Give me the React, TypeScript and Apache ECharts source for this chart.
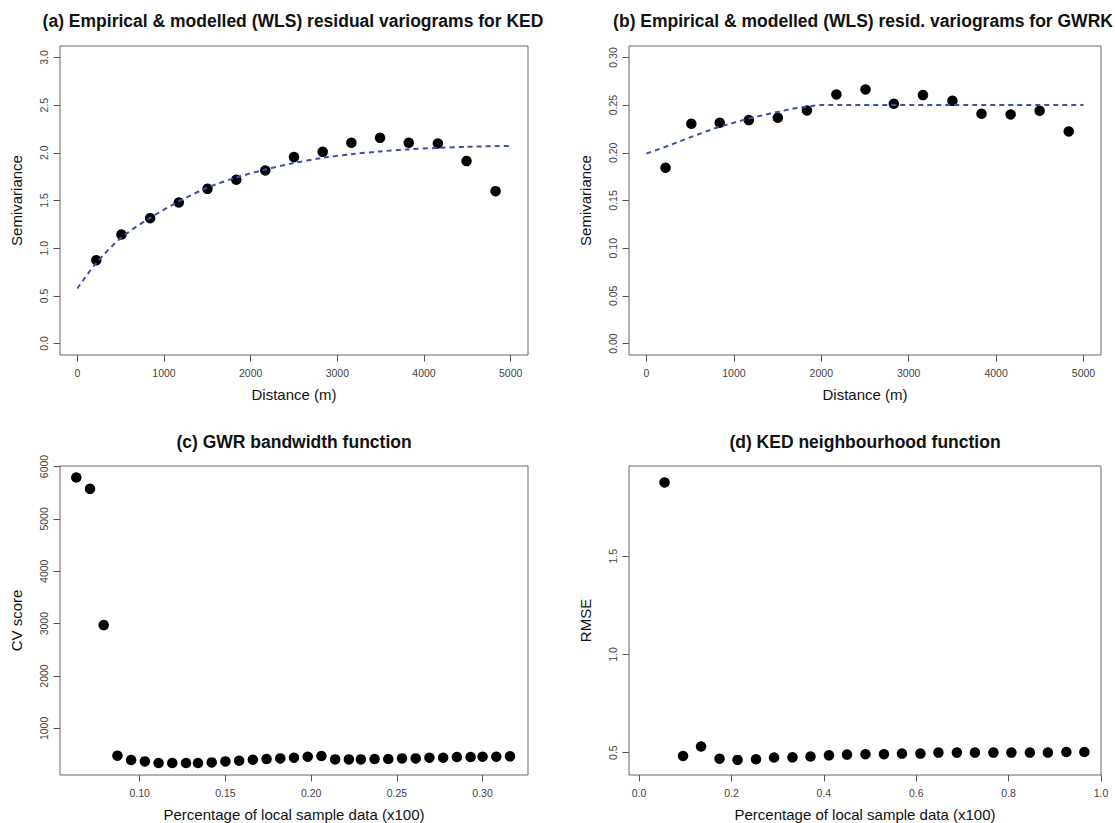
import React, { useEffect, useRef } from "react";
import * as echarts from "echarts";

const FONT = "'Liberation Sans', Arial, Helvetica, sans-serif";

// (a) KED residual variogram
const kedDist = [219, 509, 840, 1171, 1502, 1834, 2169, 2500, 2831, 3162, 3493, 3824, 4160, 4491, 4826];
const kedGamma = [0.874, 1.143, 1.315, 1.479, 1.622, 1.717, 1.815, 1.955, 2.01, 2.105, 2.157, 2.105, 2.098, 1.913, 1.598];
const kedModelDist = [0, 219, 509, 840, 1171, 1502, 1834, 2169, 2500, 2831, 3162, 3493, 3824, 4160, 4491, 5000];
const kedModelGamma = [0.577, 0.846, 1.112, 1.318, 1.49, 1.636, 1.741, 1.825, 1.893, 1.948, 1.985, 2.015, 2.036, 2.052, 2.063, 2.073];

// (b) GWRK residual variogram
const gwrkDist = [218, 513, 838, 1171, 1503, 1836, 2173, 2506, 2830, 3163, 3500, 3833, 4166, 4498, 4831];
const gwrkGamma = [0.1843, 0.2304, 0.2315, 0.2343, 0.2367, 0.2444, 0.2612, 0.2664, 0.2514, 0.2605, 0.2545, 0.2409, 0.2402, 0.2441, 0.2224];
const gwrkModelDist = [0, 197, 464, 808, 1131, 1418, 1685, 1913, 2000, 5000];
const gwrkModelGamma = [0.1993, 0.2056, 0.215, 0.2266, 0.235, 0.2413, 0.2465, 0.2493, 0.2502, 0.2502];

// (c) GWR bandwidth function
const gwrPct = [0.063, 0.071, 0.079, 0.087, 0.095, 0.103, 0.111, 0.119, 0.127, 0.134, 0.142, 0.15, 0.158, 0.166, 0.174, 0.182, 0.19, 0.198, 0.206, 0.214, 0.222, 0.229, 0.237, 0.245, 0.253, 0.261, 0.269, 0.277, 0.285, 0.293, 0.3, 0.308, 0.316];
const gwrCV = [5790, 5574, 2972, 478, 396, 370, 338, 338, 338, 338, 351, 370, 383, 402, 415, 427, 440, 459, 472, 408, 408, 408, 415, 415, 427, 427, 440, 440, 453, 453, 459, 459, 466];

// (d) KED neighbourhood function
const kedPct = [0.055, 0.095, 0.134, 0.174, 0.213, 0.253, 0.292, 0.332, 0.371, 0.411, 0.45, 0.49, 0.53, 0.569, 0.609, 0.648, 0.688, 0.727, 0.767, 0.806, 0.846, 0.885, 0.925, 0.964];
const kedRMSE = [1.876, 0.483, 0.531, 0.469, 0.463, 0.466, 0.475, 0.476, 0.48, 0.486, 0.49, 0.492, 0.492, 0.495, 0.495, 0.5, 0.5, 0.5, 0.5, 0.5, 0.5, 0.5, 0.503, 0.503];

// tick values
const distTicks = [0, 1000, 2000, 3000, 4000, 5000];
const semiTicksA = [0, 0.5, 1, 1.5, 2, 2.5, 3];
const semiTicksB = [0, 0.05, 0.1, 0.15, 0.2, 0.25, 0.3];
const pctTicksC = [0.1, 0.15, 0.2, 0.25, 0.3];
const cvTicks = [1000, 2000, 3000, 4000, 5000, 6000];
const pctTicksD = [0, 0.2, 0.4, 0.6, 0.8, 1.0];
const rmseTicks = [0.5, 1.0, 1.5];

const titles = [
  "(a) Empirical & modelled (WLS) residual variograms for KED",
  "(b) Empirical & modelled (WLS) resid. variograms for GWRK",
  "(c) GWR bandwidth function",
  "(d) KED neighbourhood function",
];

const zip = (xs: number[], ys: number[]) => xs.map((x, i) => [x, ys[i]]);

function makeX(gridIndex: number, min: number, max: number, ticks: number[], digits: number, name: string) {
  return {
    type: "value",
    gridIndex,
    min,
    max,
    name,
    nameLocation: "middle",
    nameGap: 32,
    nameTextStyle: { fontSize: 15, color: "#111", fontFamily: FONT },
    axisLine: { show: false, onZero: false },
    axisTick: { show: true, inside: false, length: 6.5, lineStyle: { color: "#555", width: 1 }, customValues: ticks },
    axisLabel: {
      customValues: ticks,
      formatter: (v: number) => v.toFixed(digits),
      color: "#444",
      fontSize: 10.5,
      fontFamily: FONT,
      margin: 12,
    },
    splitLine: { show: false },
  };
}

function makeY(gridIndex: number, min: number, max: number, ticks: number[], digits: number, name: string) {
  return {
    type: "value",
    gridIndex,
    min,
    max,
    name,
    nameLocation: "middle",
    nameGap: 36,
    nameTextStyle: { fontSize: 15, color: "#111", fontFamily: FONT },
    axisLine: { show: false, onZero: false },
    axisTick: { show: true, inside: false, length: 6.5, lineStyle: { color: "#555", width: 1 }, customValues: ticks },
    axisLabel: {
      customValues: ticks,
      formatter: (v: number) => v.toFixed(digits),
      rotate: 90,
      color: "#444",
      fontSize: 10.5,
      fontFamily: FONT,
      margin: 11,
    },
    splitLine: { show: false },
  };
}

const gridBase = { show: true, borderColor: "#666", borderWidth: 1, backgroundColor: "transparent", containLabel: false };

export default function App() {
  const ref = useRef<HTMLDivElement>(null);
  useEffect(() => {
    document.body.style.margin = "0";
    if (!ref.current) return;
    const chart = echarts.init(ref.current, undefined, { renderer: "svg" });
    const dotStyle = { color: "#000", opacity: 1 };
    const lineStyle = { color: "#3f4fae", width: 2, type: [5, 4] as any };
    const dot = { symbol: "circle", symbolSize: 10.5, itemStyle: dotStyle };
    const option: any = {
      animation: false,
      backgroundColor: "#fff",
      textStyle: { fontFamily: FONT },
      title: [
        { text: titles[0], left: 293, top: 12, textAlign: "center" },
        { text: titles[1], left: 863, top: 12, textAlign: "center" },
        { text: titles[2], left: 294, top: 433, textAlign: "center" },
        { text: titles[3], left: 865, top: 433, textAlign: "center" },
      ].map((t) => ({
        ...t,
        textStyle: { fontSize: 17.5, fontWeight: "bold", color: "#111", fontFamily: FONT },
        padding: 0,
      })),
      grid: [
        { ...gridBase, left: 60, top: 46, width: 468, height: 309 },
        { ...gridBase, left: 629, top: 46, width: 472, height: 309 },
        { ...gridBase, left: 60, top: 466, width: 468, height: 310 },
        { ...gridBase, left: 629, top: 466, width: 472, height: 310 },
      ],
      xAxis: [
        makeX(0, -200, 5200, distTicks, 0, "Distance (m)"),
        makeX(1, -200, 5200, distTicks, 0, "Distance (m)"),
        makeX(2, 0.0535, 0.3265, pctTicksC, 2, "Percentage of local sample data (x100)"),
        makeX(3, -0.022, 1.0, pctTicksD, 1, "Percentage of local sample data (x100)"),
      ],
      yAxis: [
        makeY(0, -0.12, 3.12, semiTicksA, 1, "Semivariance"),
        makeY(1, -0.012, 0.312, semiTicksB, 2, "Semivariance"),
        makeY(2, 110, 6010, cvTicks, 0, "CV score"),
        makeY(3, 0.386, 1.96, rmseTicks, 1, "RMSE"),
      ],
      series: [
        { type: "scatter", xAxisIndex: 0, yAxisIndex: 0, data: zip(kedDist, kedGamma), ...dot, z: 2 },
        { type: "line", xAxisIndex: 0, yAxisIndex: 0, data: zip(kedModelDist, kedModelGamma), showSymbol: false, smooth: 0.3, lineStyle, z: 3 },
        { type: "scatter", xAxisIndex: 1, yAxisIndex: 1, data: zip(gwrkDist, gwrkGamma), ...dot, z: 2 },
        { type: "line", xAxisIndex: 1, yAxisIndex: 1, data: zip(gwrkModelDist, gwrkModelGamma), showSymbol: false, smooth: false, lineStyle, z: 3 },
        { type: "scatter", xAxisIndex: 2, yAxisIndex: 2, data: zip(gwrPct, gwrCV), ...dot },
        { type: "scatter", xAxisIndex: 3, yAxisIndex: 3, data: zip(kedPct, kedRMSE), ...dot },
      ],
    };
    chart.setOption(option);
    return () => chart.dispose();
  }, []);
  return <div ref={ref} style={{ width: 1115, height: 823 }} />;
}
